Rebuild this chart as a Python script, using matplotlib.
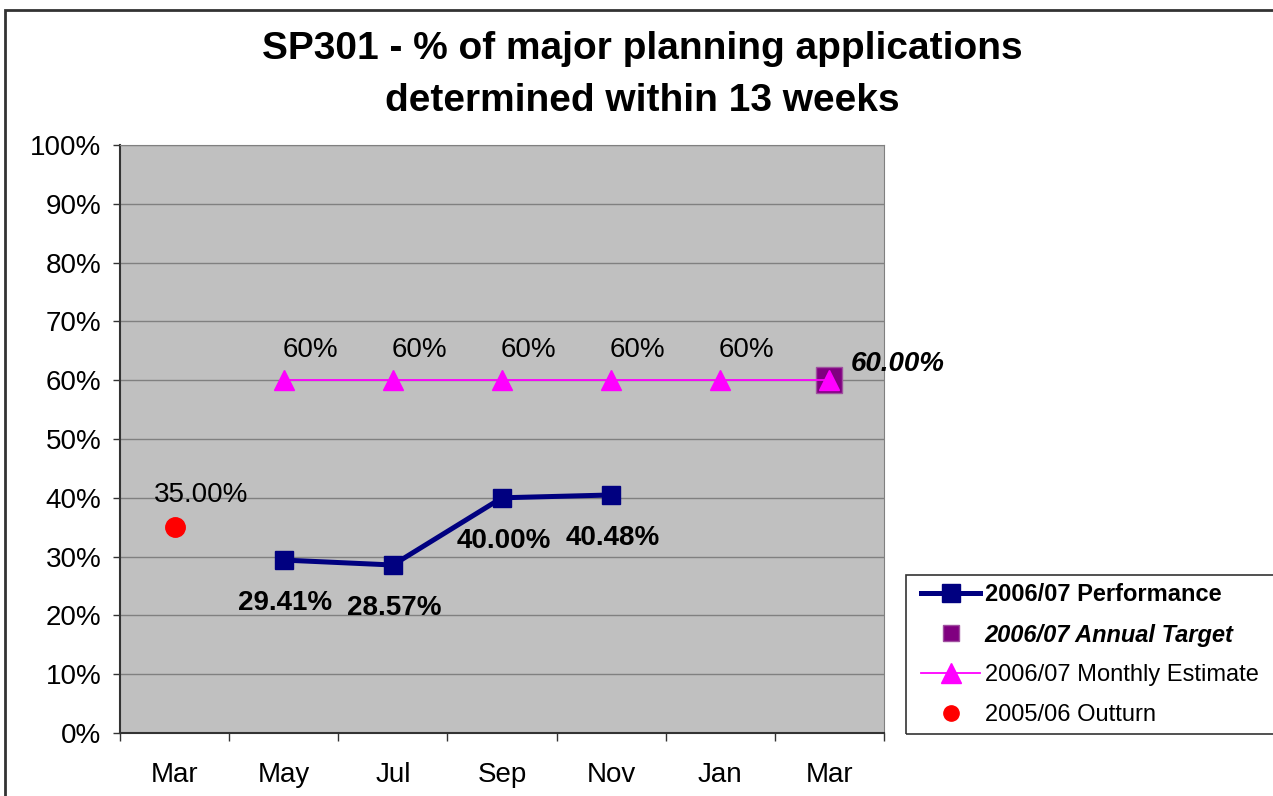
import numpy as np
import matplotlib.pyplot as plt
from matplotlib.patches import Rectangle
from matplotlib.ticker import FixedLocator, PercentFormatter

plt.rcParams['font.family'] = ['Liberation Sans', 'DejaVu Sans']

# --- data ---
months = ['Mar', 'May', 'Jul', 'Sep', 'Nov', 'Jan', 'Mar']
perf_idx = [1, 2, 3, 4]
perf_vals = [29.41, 28.57, 40.00, 40.48]
estimate_idx = [1, 2, 3, 4, 5, 6]
estimate_vals = [60, 60, 60, 60, 60, 60]
target_idx = [6]
target_vals = [60.00]
outturn_idx = [0]
outturn_vals = [35.00]

W, H = 1273, 796
fig = plt.figure(figsize=(W / 100, H / 100), dpi=100)

# chart border (only top/left visible in reference)
fig.patches.append(Rectangle((5 / W, -0.1), 1.2, 1 - 10 / H + 0.1, transform=fig.transFigure,
                             fill=False, edgecolor='#333333', linewidth=2))

ax = fig.add_axes([120 / W, 1 - 733 / H, (884 - 120) / W, (733 - 145) / H])
ax.set_facecolor('#c0c0c0')

ax.plot(perf_idx, perf_vals, color='#000080', linewidth=3.6, marker='s', markersize=13,
        label='2006/07 Performance', zorder=4)
ax.plot(target_idx, target_vals, linestyle='none', marker='s', markersize=19,
        color='#800080', markeredgecolor='#a050a0', label='2006/07 Annual Target', zorder=3)
ax.plot(estimate_idx, estimate_vals, color='#ff00ff', linewidth=1.3, marker='^', markersize=15,
        label='2006/07 Monthly Estimate', zorder=5)
ax.plot(outturn_idx, outturn_vals, linestyle='none', marker='o', markersize=14,
        color='#ff0000', label='2005/06 Outturn', zorder=3)

# data labels
for x, v in zip(perf_idx, perf_vals):
    ax.annotate(f'{v:.2f}%', (x, v), xytext=(1, -31), textcoords='offset points',
                ha='center', va='center', fontsize=20, fontweight='bold')
for x, v in zip(estimate_idx[:-1], estimate_vals[:-1]):
    ax.annotate(f'{v:.0f}%', (x, v), xytext=(19, 22), textcoords='offset points',
                ha='center', va='center', fontsize=20)
for x, v in zip(target_idx, target_vals):
    ax.annotate(f'{v:.2f}%', (x, v), xytext=(15, 12), textcoords='offset points',
                ha='left', va='center', fontsize=20, fontweight='bold', style='italic',
                annotation_clip=False)
for x, v in zip(outturn_idx, outturn_vals):
    ax.annotate(f'{v:.2f}%', (x, v), xytext=(19, 23), textcoords='offset points',
                ha='center', va='center', fontsize=20)

# axes
ax.set_ylim(0, 100)
ax.set_xlim(-0.5, len(months) - 0.5)
ax.yaxis.set_major_locator(FixedLocator(np.arange(0, 101, 10)))
ax.yaxis.set_major_formatter(PercentFormatter(decimals=0))
ax.grid(axis='y', color='#808080', linewidth=1)
ax.set_axisbelow(True)

ax.set_xticks(range(len(months)))
ax.set_xticklabels(months)
ax.set_xticks(np.arange(-0.5, len(months)), minor=True)
ax.tick_params(axis='x', which='major', length=0, pad=21, labelsize=20)
ax.tick_params(axis='x', which='minor', length=6, width=1, color='#333333')
ax.tick_params(axis='y', length=5, width=1, color='#333333', labelsize=20, pad=8.5)

for s in ['top', 'right']:
    ax.spines[s].set_color('#808080')
for s in ['left', 'bottom']:
    ax.spines[s].set_color('#333333')
    ax.spines[s].set_linewidth(1.5)

fig.text(642 / W, 1 - 75 / H, 'SP301 - % of major planning applications\ndetermined within 13 weeks',
         ha='center', va='center', fontsize=28, fontweight='bold', linespacing=1.55)

# legend: frame drawn separately to match the reference box
fig.patches.append(Rectangle((906 / W, 1 - 734 / H), 400 / W, 159 / H, transform=fig.transFigure,
                             fill=False, edgecolor='#333333', linewidth=1.2))
leg = fig.legend(loc='upper left', bbox_to_anchor=(921 / W, 1 - 583 / H),
                 frameon=False, fontsize=17, handlelength=2.5, handletextpad=0.2,
                 labelspacing=0.75, borderpad=0, borderaxespad=0)
leg.get_texts()[0].set_fontweight('bold')
leg.get_texts()[1].set_fontweight('bold')
leg.get_texts()[1].set_style('italic')
leg.legend_handles[1].set_markersize(11)
leg.legend_handles[3].set_markersize(11)

fig.savefig('out.png', dpi=100)
